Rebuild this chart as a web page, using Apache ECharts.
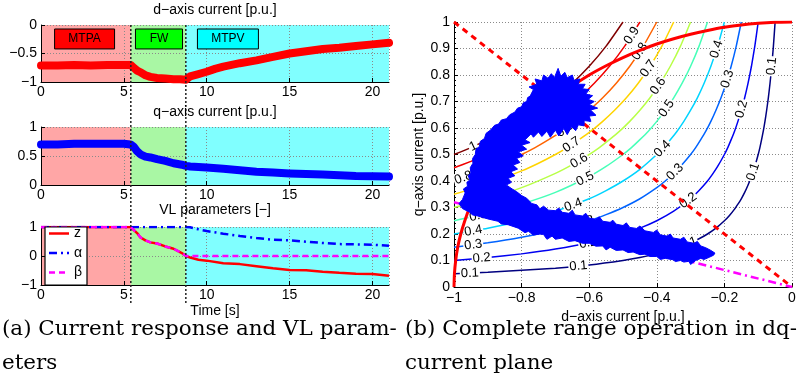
<!DOCTYPE html>
<html>
<head>
<meta charset="utf-8">
<title>Current response and dq-plane operation</title>
<script src="https://cdn.jsdelivr.net/npm/echarts@6.0.0/dist/echarts.min.js"></script>
<style>
html, body { margin: 0; padding: 0; background: #ffffff; }
#chart { width: 805px; height: 385px; }
</style>
</head>
<body>
<div id="chart"></div>
<script>
// ---- d-axis current response [p.u.] ----
const tD = [0, 1, 2, 3, 4, 5, 5.4, 5.6, 5.8, 6, 6.3, 6.6, 7, 7.5, 8, 8.4, 8.75, 9, 9.5, 10, 10.5, 11, 12, 13, 14, 15, 16, 17, 18, 19, 20, 21];
const idTrace = [-0.71, -0.71, -0.70, -0.71, -0.70, -0.70, -0.70, -0.75, -0.80, -0.83, -0.88, -0.91, -0.93, -0.94, -0.95, -0.95, -0.96, -0.90, -0.86, -0.82, -0.77, -0.73, -0.67, -0.62, -0.56, -0.50, -0.46, -0.42, -0.40, -0.37, -0.34, -0.31];

// ---- q-axis current response [p.u.] ----
const tQ = [0, 1, 2, 3, 4, 5, 5.4, 5.6, 5.8, 6, 6.3, 6.6, 7, 7.5, 8, 8.5, 8.75, 9, 10, 11, 12, 13, 14, 15, 16, 17, 18, 19, 20, 21];
const iqTrace = [0.70, 0.70, 0.71, 0.71, 0.71, 0.71, 0.70, 0.66, 0.58, 0.53, 0.49, 0.475, 0.445, 0.415, 0.375, 0.35, 0.33, 0.32, 0.30, 0.28, 0.255, 0.23, 0.215, 0.20, 0.19, 0.18, 0.17, 0.155, 0.15, 0.145];

// ---- voltage-limit (VL) parameters ----
const tVL = [0, 5.4, 5.5, 5.8, 6, 6.3, 6.6, 7, 7.5, 8, 8.5, 8.75, 9, 9.5, 10, 11, 12, 13, 14, 15, 16, 17, 18, 19, 20, 21];
const zTrace = [1, 1, 0.97, 0.79, 0.64, 0.54, 0.47, 0.43, 0.33, 0.25, 0.10, 0, -0.05, -0.13, -0.16, -0.25, -0.28, -0.35, -0.42, -0.48, -0.49, -0.54, -0.58, -0.61, -0.62, -0.68];
const alphaTrace = [1, 1, 1, 1, 1, 1, 1, 1, 1, 1, 1, 1, 0.99, 0.92, 0.86, 0.77, 0.69, 0.62, 0.56, 0.54, 0.49, 0.45, 0.41, 0.40, 0.39, 0.35];
const betaTrace = [1, 1, 0.97, 0.79, 0.64, 0.54, 0.47, 0.43, 0.33, 0.25, 0.10, 0, 0, 0, 0, 0, 0, 0, 0, 0, 0, 0, 0, 0, 0, 0];
const vlNames = ['z', '\u03B1', '\u03B2'];

// ---- operating regions ----
const phaseNames = ['MTPA', 'FW', 'MTPV'];
const phaseEdges = [0, 5.42, 8.74, 21];

// ---- constant-torque contours in the dq plane ----
const torqueLevels = [0.1, 0.2, 0.3, 0.4, 0.5, 0.6, 0.7, 0.8, 0.9, 1];
const torquePaths = [
  [[-1,0.05],[-0.9,0.056],[-0.8,0.063],[-0.7,0.071],[-0.6,0.083],[-0.5,0.1],[-0.45,0.111],[-0.4,0.125],[-0.35,0.143],[-0.3,0.167],[-0.275,0.182],[-0.25,0.2],[-0.225,0.222],[-0.2,0.25],[-0.185,0.27],[-0.17,0.294],[-0.16,0.313],[-0.15,0.333],[-0.14,0.357],[-0.13,0.385],[-0.12,0.417],[-0.11,0.455],[-0.1,0.5],[-0.095,0.526],[-0.09,0.556],[-0.085,0.588],[-0.08,0.625],[-0.075,0.667],[-0.07,0.714],[-0.065,0.769],[-0.06,0.833],[-0.055,0.909],[-0.05,1]],
  [[-1,0.1],[-0.9,0.111],[-0.8,0.125],[-0.7,0.143],[-0.6,0.167],[-0.5,0.2],[-0.45,0.222],[-0.4,0.25],[-0.35,0.286],[-0.3,0.333],[-0.275,0.364],[-0.25,0.4],[-0.235,0.426],[-0.22,0.455],[-0.2,0.5],[-0.19,0.526],[-0.18,0.556],[-0.17,0.588],[-0.16,0.625],[-0.15,0.667],[-0.14,0.714],[-0.13,0.769],[-0.12,0.833],[-0.11,0.909],[-0.1,1]],
  [[-1,0.15],[-0.9,0.167],[-0.8,0.188],[-0.7,0.214],[-0.6,0.25],[-0.55,0.273],[-0.5,0.3],[-0.45,0.333],[-0.4,0.375],[-0.375,0.4],[-0.35,0.429],[-0.325,0.462],[-0.3,0.5],[-0.285,0.526],[-0.27,0.556],[-0.255,0.588],[-0.24,0.625],[-0.225,0.667],[-0.21,0.714],[-0.195,0.769],[-0.18,0.833],[-0.165,0.909],[-0.15,1]],
  [[-1,0.2],[-0.9,0.222],[-0.8,0.25],[-0.7,0.286],[-0.6,0.333],[-0.55,0.364],[-0.5,0.4],[-0.45,0.444],[-0.4,0.5],[-0.38,0.526],[-0.36,0.556],[-0.34,0.588],[-0.32,0.625],[-0.3,0.667],[-0.28,0.714],[-0.26,0.769],[-0.24,0.833],[-0.22,0.909],[-0.2,1]],
  [[-1,0.25],[-0.9,0.278],[-0.8,0.313],[-0.7,0.357],[-0.6,0.417],[-0.55,0.455],[-0.5,0.5],[-0.475,0.526],[-0.45,0.556],[-0.425,0.588],[-0.4,0.625],[-0.375,0.667],[-0.35,0.714],[-0.325,0.769],[-0.3,0.833],[-0.275,0.909],[-0.25,1]],
  [[-1,0.3],[-0.9,0.333],[-0.8,0.375],[-0.7,0.429],[-0.65,0.462],[-0.6,0.5],[-0.57,0.526],[-0.54,0.556],[-0.51,0.588],[-0.48,0.625],[-0.45,0.667],[-0.42,0.714],[-0.39,0.769],[-0.36,0.833],[-0.33,0.909],[-0.3,1]],
  [[-1,0.35],[-0.9,0.389],[-0.8,0.438],[-0.75,0.467],[-0.7,0.5],[-0.665,0.526],[-0.63,0.556],[-0.595,0.588],[-0.56,0.625],[-0.525,0.667],[-0.49,0.714],[-0.455,0.769],[-0.42,0.833],[-0.385,0.909],[-0.35,1]],
  [[-1,0.4],[-0.9,0.444],[-0.8,0.5],[-0.76,0.526],[-0.72,0.556],[-0.68,0.588],[-0.64,0.625],[-0.6,0.667],[-0.56,0.714],[-0.52,0.769],[-0.48,0.833],[-0.44,0.909],[-0.4,1]],
  [[-1,0.45],[-0.95,0.474],[-0.9,0.5],[-0.855,0.526],[-0.81,0.556],[-0.765,0.588],[-0.72,0.625],[-0.675,0.667],[-0.63,0.714],[-0.585,0.769],[-0.54,0.833],[-0.495,0.909],[-0.45,1]],
  [[-1,0.5],[-0.95,0.526],[-0.9,0.556],[-0.85,0.588],[-0.8,0.625],[-0.75,0.667],[-0.7,0.714],[-0.65,0.769],[-0.6,0.833],[-0.55,0.909],[-0.5,1]]
];
// inline contour labels: [id, iq, level index]
const contourLabels = [
  [-0.474, 0.949, 8], [-0.450, 0.889, 7], [-0.425, 0.824, 6], [-0.396, 0.758, 5], [-0.371, 0.674, 4],
  [-0.223, 0.897, 3], [-0.191, 0.785, 2], [-0.149, 0.671, 1], [-0.060, 0.833, 0],
  [-0.383, 0.522, 3], [-0.346, 0.434, 2], [-0.307, 0.326, 1], [-0.115, 0.435, 0], [-0.307, 0.163, 0],
  [-0.672, 0.595, 7], [-0.652, 0.537, 6], [-0.630, 0.476, 5], [-0.612, 0.408, 4], [-0.647, 0.309, 3],
  [-0.612, 0.245, 2], [-0.603, 0.166, 1], [-0.632, 0.079, 0],
  [-0.943, 0.530, 9], [-0.972, 0.412, 7], [-0.928, 0.269, 4], [-0.943, 0.212, 3], [-0.943, 0.159, 2],
  [-0.918, 0.109, 1], [-0.953, 0.052, 0]
];

// ---- current limit circle, MTPA and MTPV lines ----
const currentLimit = [[-1,0],[-0.9987,0.05],[-0.995,0.1],[-0.989,0.15],[-0.98,0.2],[-0.968,0.25],[-0.954,0.3],[-0.937,0.35],[-0.917,0.4],[-0.893,0.45],[-0.866,0.5],[-0.835,0.55],[-0.8,0.6],[-0.76,0.65],[-0.714,0.7],[-0.66,0.75],[-0.6,0.8],[-0.55,0.835],[-0.5,0.866],[-0.45,0.893],[-0.4,0.917],[-0.35,0.937],[-0.3,0.954],[-0.25,0.968],[-0.2,0.98],[-0.15,0.989],[-0.1,0.995],[-0.05,0.9987],[0,1]];
const mtpaLine = [[-1, 1], [0, 0]];
const mtpvLine = [[-1, 0.32], [0, 0]];

// ---- envelope of the measured dq current trajectory ----
const dqTrajectory = [
  // MTPA cluster
  [-0.775,0.72],[-0.765,0.745],[-0.778,0.755],[-0.755,0.765],[-0.76,0.785],[-0.74,0.778],[-0.735,0.80],[-0.722,0.788],
  [-0.712,0.805],[-0.703,0.79],[-0.692,0.825],[-0.684,0.795],[-0.672,0.81],[-0.665,0.79],[-0.65,0.80],[-0.645,0.78],
  [-0.628,0.785],[-0.632,0.765],[-0.612,0.765],[-0.62,0.748],[-0.6,0.745],[-0.61,0.728],[-0.59,0.722],[-0.603,0.708],
  [-0.585,0.70],[-0.6,0.688],[-0.575,0.675],[-0.596,0.668],[-0.58,0.648],[-0.6,0.645],[-0.595,0.625],[-0.615,0.628],
  [-0.615,0.608],[-0.632,0.612],[-0.64,0.59],[-0.652,0.605],[-0.665,0.575],[-0.675,0.598],[-0.69,0.57],[-0.70,0.592],
  [-0.715,0.565],[-0.725,0.588],[-0.74,0.568],[-0.75,0.585],[-0.765,0.565],[-0.772,0.578],
  // field weakening, outer edge
  [-0.79,0.555],[-0.775,0.545],[-0.80,0.535],[-0.785,0.52],[-0.81,0.51],[-0.795,0.495],[-0.815,0.485],[-0.805,0.47],
  [-0.825,0.46],[-0.812,0.445],[-0.832,0.435],[-0.82,0.42],[-0.84,0.41],[-0.83,0.395],[-0.845,0.385],[-0.828,0.37],
  [-0.815,0.36],[-0.80,0.345],[-0.785,0.335],[-0.77,0.315],
  // MTPV, upper edge
  [-0.755,0.31],[-0.746,0.295],[-0.735,0.305],[-0.72,0.29],[-0.70,0.288],[-0.69,0.298],[-0.68,0.282],[-0.66,0.278],
  [-0.65,0.29],[-0.642,0.272],[-0.62,0.268],[-0.61,0.278],[-0.60,0.26],[-0.58,0.256],[-0.57,0.265],[-0.56,0.248],
  [-0.538,0.244],[-0.53,0.252],[-0.52,0.237],[-0.50,0.232],[-0.49,0.242],[-0.48,0.225],[-0.46,0.221],[-0.45,0.23],
  [-0.435,0.212],[-0.41,0.206],[-0.40,0.215],[-0.39,0.197],[-0.37,0.192],[-0.36,0.2],[-0.352,0.185],[-0.33,0.18],
  [-0.32,0.188],[-0.31,0.17],[-0.29,0.165],[-0.28,0.172],[-0.27,0.155],[-0.255,0.148],[-0.24,0.138],[-0.228,0.128],[-0.232,0.12],
  // MTPV, lower edge
  [-0.245,0.112],[-0.26,0.104],[-0.27,0.108],[-0.285,0.1],[-0.30,0.085],[-0.305,0.097],[-0.32,0.094],[-0.33,0.1],
  [-0.345,0.096],[-0.352,0.103],[-0.375,0.108],[-0.39,0.104],[-0.40,0.115],[-0.42,0.115],[-0.435,0.124],[-0.45,0.122],
  [-0.47,0.132],[-0.485,0.13],[-0.50,0.14],[-0.52,0.138],[-0.538,0.15],[-0.55,0.14],[-0.56,0.155],[-0.58,0.154],
  [-0.60,0.165],[-0.62,0.165],[-0.642,0.175],[-0.66,0.172],[-0.68,0.185],[-0.70,0.18],[-0.71,0.192],[-0.725,0.18],
  [-0.735,0.198],[-0.746,0.2],[-0.765,0.196],[-0.78,0.21],[-0.79,0.205],[-0.81,0.222],[-0.84,0.235],[-0.86,0.238],
  [-0.87,0.248],[-0.90,0.257],[-0.93,0.268],[-0.945,0.272],[-0.955,0.283],[-0.975,0.296],[-0.985,0.315],[-0.975,0.33],
  // field weakening, inner edge
  [-0.967,0.355],[-0.972,0.37],[-0.96,0.38],[-0.962,0.395],[-0.953,0.404],[-0.958,0.42],[-0.95,0.43],[-0.952,0.45],
  [-0.944,0.467],[-0.945,0.485],[-0.937,0.50],[-0.935,0.52],[-0.925,0.53],[-0.922,0.55],[-0.91,0.56],[-0.905,0.58],
  [-0.892,0.592],[-0.88,0.61],[-0.868,0.615],[-0.86,0.63],[-0.845,0.635],[-0.835,0.65],[-0.82,0.66],[-0.812,0.675],
  [-0.80,0.68],[-0.795,0.695],[-0.785,0.70],[-0.782,0.715]
];

// ---------------------------------------------------------------------------
const SANS = '"Liberation Sans", Arial, Helvetica, sans-serif';
const SERIF = '"DejaVu Serif", "Liberation Serif", serif';
const bandColors = ['#FFA6A6', '#A9F7A4', '#80FFFF'];
const tagColors = ['#FF0000', '#00FF00', '#00FFFF'];
const vlColors = ['#FF0000', '#0000FF', '#FF00FF'];
const vlDash = ['solid', [8, 4, 2, 4], [6, 4]];
// jet colormap sampled at the ten torque levels
const jet = ['#000080', '#0000F1', '#0063FF', '#00D4FF', '#47FFB8', '#B8FF47', '#FFD400', '#FF6300', '#F10000', '#800000'];

const zip = (xs, ys) => xs.map((x, i) => [x, ys[i]]);
const minus = v => String(+(+v).toFixed(2)).replace('-', '\u2212');

const chart = echarts.init(document.getElementById('chart'), null, { renderer: 'canvas' });

const grids = [
  { left: 41, top: 25, width: 348, height: 57 },
  { left: 41, top: 127, width: 348, height: 58 },
  { left: 41, top: 227, width: 348, height: 58 },
  { left: 454, top: 22, width: 338, height: 265 }
];

const gridLine = { show: true, lineStyle: { color: '#8a8a8a', width: 1, type: [1, 2] } };
const blackAxis = { show: true, onZero: false, lineStyle: { color: '#000', width: 1 } };
const innerTick = { show: true, inside: true, length: 4, lineStyle: { color: '#000' } };

function timeAxis(gi, name) {
  return {
    type: 'value', gridIndex: gi, min: 0, max: 21, interval: 5, z: 1,
    axisLine: blackAxis, axisTick: innerTick, splitLine: gridLine,
    axisLabel: { color: '#000', fontSize: 14, fontFamily: SANS, margin: 3, formatter: minus,
                 showMinLabel: true, showMaxLabel: false },
    name: name || '', nameLocation: 'middle', nameGap: 19,
    nameTextStyle: { color: '#000', fontSize: 14, fontFamily: SANS }
  };
}
function valueAxis(gi, min, max, interval) {
  return {
    type: 'value', gridIndex: gi, min, max, interval, z: 1,
    axisLine: blackAxis, axisTick: innerTick, splitLine: gridLine,
    axisLabel: { color: '#000', fontSize: 14, fontFamily: SANS, margin: 4, formatter: minus }
  };
}

function renderBand(params, api) {
  const cs = params.coordSys;
  const x0 = api.coord([api.value(0), 0])[0];
  const x1 = api.coord([api.value(1), 0])[0];
  return { type: 'rect', shape: { x: x0, y: cs.y, width: x1 - x0, height: cs.height },
           style: { fill: bandColors[api.value(2)] } };
}
const bandData = phaseNames.map((n, i) => [phaseEdges[i], phaseEdges[i + 1], i]);

function bandSeries(gi) {
  return { type: 'custom', xAxisIndex: gi, yAxisIndex: gi, z: 0, silent: true,
           renderItem: renderBand, data: bandData, clip: true };
}

// phase tags inside the d-axis plot
const tagSpan = [[0.82, 4.44], [5.7, 8.54], [9.44, 13.12]];
const tagTop = -0.07, tagBottom = -0.42;
function renderTag(params, api) {
  const i = api.value(2);
  const p0 = api.coord([api.value(0), tagTop]);
  const p1 = api.coord([api.value(1), tagBottom]);
  return { type: 'group', children: [
    { type: 'rect', shape: { x: p0[0], y: p0[1], width: p1[0] - p0[0], height: p1[1] - p0[1] },
      style: { fill: tagColors[i], stroke: '#000', lineWidth: 1 } },
    { type: 'text', x: (p0[0] + p1[0]) / 2, y: (p0[1] + p1[1]) / 2,
      style: { text: phaseNames[i], fill: '#000', font: '12px ' + SANS, align: 'center', verticalAlign: 'middle',
               textAlign: 'center', textVerticalAlign: 'middle' } }
  ] };
}

function renderContourLabel(params, api) {
  const id = api.value(0), iq = api.value(1), k = api.value(2);
  const path = torquePaths[k];
  let j = 0;
  while (j < path.length - 2 && path[j + 1][0] < id) j++;
  const a = api.coord(path[j]), b = api.coord(path[j + 1]);
  const p = api.coord([id, iq]);
  const rot = Math.atan2(a[1] - b[1], b[0] - a[0]);
  const lvl = torqueLevels[k];
  return { type: 'text', x: p[0], y: p[1], rotation: rot,
    style: { text: lvl === 1 ? '1' : String(lvl), fill: '#000', font: '13px ' + SANS,
             align: 'center', verticalAlign: 'middle', textAlign: 'center', textVerticalAlign: 'middle',
             backgroundColor: '#fff', padding: [0, 1] } };
}

function renderTrajectory(params, api) {
  const pts = dqTrajectory.map(p => api.coord(p));
  return { type: 'polygon', shape: { points: pts },
           style: { fill: '#0000FF', stroke: '#0000FF', lineWidth: 1, lineJoin: 'miter' } };
}

const vlTraces = [zTrace, alphaTrace, betaTrace];

const series = [
  bandSeries(0), bandSeries(1), bandSeries(2),
  { type: 'custom', xAxisIndex: 0, yAxisIndex: 0, z: 4, silent: true, renderItem: renderTag,
    data: tagSpan.map((s, i) => [s[0], s[1], i]) },
  { name: 'id', type: 'line', xAxisIndex: 0, yAxisIndex: 0, data: zip(tD, idTrace), symbol: 'none', z: 2,
    lineStyle: { color: '#FF0000', width: 8, cap: 'round', join: 'round' }, silent: true },
  { name: 'iq', type: 'line', xAxisIndex: 1, yAxisIndex: 1, data: zip(tQ, iqTrace), symbol: 'none', z: 2,
    lineStyle: { color: '#0000FF', width: 8, cap: 'round', join: 'round' }, silent: true }
];
vlTraces.forEach((tr, k) => {
  series.push({ name: vlNames[k], type: 'line', xAxisIndex: 2, yAxisIndex: 2, data: zip(tVL, tr),
    symbol: 'none', z: 2 + k * 0.1, silent: true,
    lineStyle: { color: vlColors[k], width: 2.5, type: vlDash[k] } });
});

torquePaths.forEach((path, k) => {
  series.push({ type: 'line', xAxisIndex: 3, yAxisIndex: 3, data: path, symbol: 'none', smooth: 0.2,
                silent: true, z: 2, lineStyle: { color: jet[k], width: 1.5 } });
});
series.push(
  { type: 'custom', xAxisIndex: 3, yAxisIndex: 3, z: 3, silent: true, renderItem: renderContourLabel, data: contourLabels },
  { type: 'line', xAxisIndex: 3, yAxisIndex: 3, data: currentLimit, symbol: 'none', smooth: 0.2, silent: true, z: 4,
    lineStyle: { color: '#FF0000', width: 3 } },
  { type: 'line', xAxisIndex: 3, yAxisIndex: 3, data: mtpaLine, symbol: 'none', silent: true, z: 4,
    lineStyle: { color: '#FF0000', width: 3, type: [6, 5] } },
  { type: 'line', xAxisIndex: 3, yAxisIndex: 3, data: mtpvLine, symbol: 'none', silent: true, z: 4,
    lineStyle: { color: '#FF00FF', width: 2.5, type: [8, 4, 2, 4] } },
  { type: 'custom', xAxisIndex: 3, yAxisIndex: 3, z: 5, silent: true, renderItem: renderTrajectory,
    data: [dqTrajectory[0]] }
);

const titleText = (id, text, x, y) => ({
  type: 'text', id, x, y, silent: true, z: 20,
  style: { text, fill: '#000', font: '14px ' + SANS, align: 'center', verticalAlign: 'middle',
           textAlign: 'center', textVerticalAlign: 'middle' }
});
const captionText = (id, text, x, y) => ({
  type: 'text', id, x, y, silent: true, z: 20, scaleX: 1.1,
  style: { text, fill: '#000', font: '19.5px ' + SERIF, align: 'left', verticalAlign: 'middle',
           textAlign: 'left', textVerticalAlign: 'middle' }
});

// legend box of the VL parameter plot
const legendBox = { x: 45, y: 227, w: 42, h: 58, row: 19.5 };
const legendParts = [
  { type: 'rect', id: 'lgBox', z: 20, silent: true,
    shape: { x: legendBox.x, y: legendBox.y, width: legendBox.w, height: legendBox.h },
    style: { fill: '#fff', stroke: '#000', lineWidth: 1.2 } }
];
vlNames.forEach((n, k) => {
  const cy = legendBox.y + 6.5 + k * legendBox.row;
  const line = { type: 'line', id: 'lgLine' + k, z: 21, silent: true,
    shape: { x1: legendBox.x + 4, y1: cy, x2: legendBox.x + 24, y2: cy },
    style: { stroke: vlColors[k], lineWidth: 2.5 } };
  if (vlDash[k] !== 'solid') line.style.lineDash = vlDash[k];
  legendParts.push(line, { type: 'text', id: 'lgText' + k, z: 21, silent: true, x: legendBox.x + 29, y: cy,
    style: { text: n, fill: '#000', font: '14px ' + SANS, align: 'left', verticalAlign: 'middle',
             textAlign: 'left', textVerticalAlign: 'middle' } });
});

const option = {
  animation: false,
  backgroundColor: '#ffffff',
  grid: grids.map(g => Object.assign({ containLabel: false }, g)),
  xAxis: [
    timeAxis(0), timeAxis(1), timeAxis(2, 'Time [s]'),
    { type: 'value', gridIndex: 3, min: -1, max: 0, interval: 0.2, z: 1,
      axisLine: blackAxis, axisTick: innerTick, splitLine: gridLine,
      axisLabel: { color: '#000', fontSize: 14, fontFamily: SANS, margin: 4, formatter: minus },
      name: 'd\u2212axis current [p.u.]', nameLocation: 'middle', nameGap: 16,
      nameTextStyle: { color: '#000', fontSize: 14, fontFamily: SANS } }
  ],
  yAxis: [
    valueAxis(0, -1, 0, 0.5), valueAxis(1, 0, 1, 0.5), valueAxis(2, -1, 1, 1),
    { type: 'value', gridIndex: 3, min: 0, max: 1, interval: 0.1, z: 1,
      axisLine: blackAxis, axisTick: innerTick, splitLine: gridLine,
      minorTick: { show: true, splitNumber: 5, length: 2, lineStyle: { color: '#000' } },
      axisLabel: { color: '#000', fontSize: 14, fontFamily: SANS, margin: 4, formatter: minus },
      name: 'q\u2212axis current [p.u.]', nameLocation: 'middle', nameGap: 22, nameRotate: 90,
      nameTextStyle: { color: '#000', fontSize: 14, fontFamily: SANS } }
  ],
  series,
  graphic: [
    titleText('t1', 'd\u2212axis current [p.u.]', 215, 10),
    titleText('t2', 'q\u2212axis current [p.u.]', 215, 112),
    titleText('t3', 'VL parameters [\u2212]', 215, 210),
    captionText('c1', '(a) Current response and VL param-', 2, 330),
    captionText('c2', 'eters', 2, 364),
    captionText('c3', '(b) Complete range operation in dq-', 405, 330),
    captionText('c4', 'current plane', 405, 364)
  ].concat(legendParts)
};

chart.setOption(option);

// dotted phase boundaries running through all three time plots
const yTop = chart.convertToPixel({ gridIndex: 0 }, [0, 0])[1];
const yBottom = chart.convertToPixel({ gridIndex: 2 }, [0, -1])[1] + 18;
const boundaryLines = phaseEdges.slice(1, 3).map((t, i) => {
  const x = chart.convertToPixel({ gridIndex: 0 }, [t, 0])[0];
  return { type: 'line', id: 'edge' + i, silent: true, z: 10,
           shape: { x1: x, y1: yTop, x2: x, y2: yBottom },
           style: { stroke: '#222', lineWidth: 1.5, lineDash: [2, 2] } };
});
chart.setOption({ graphic: boundaryLines });
</script>
</body>
</html>
